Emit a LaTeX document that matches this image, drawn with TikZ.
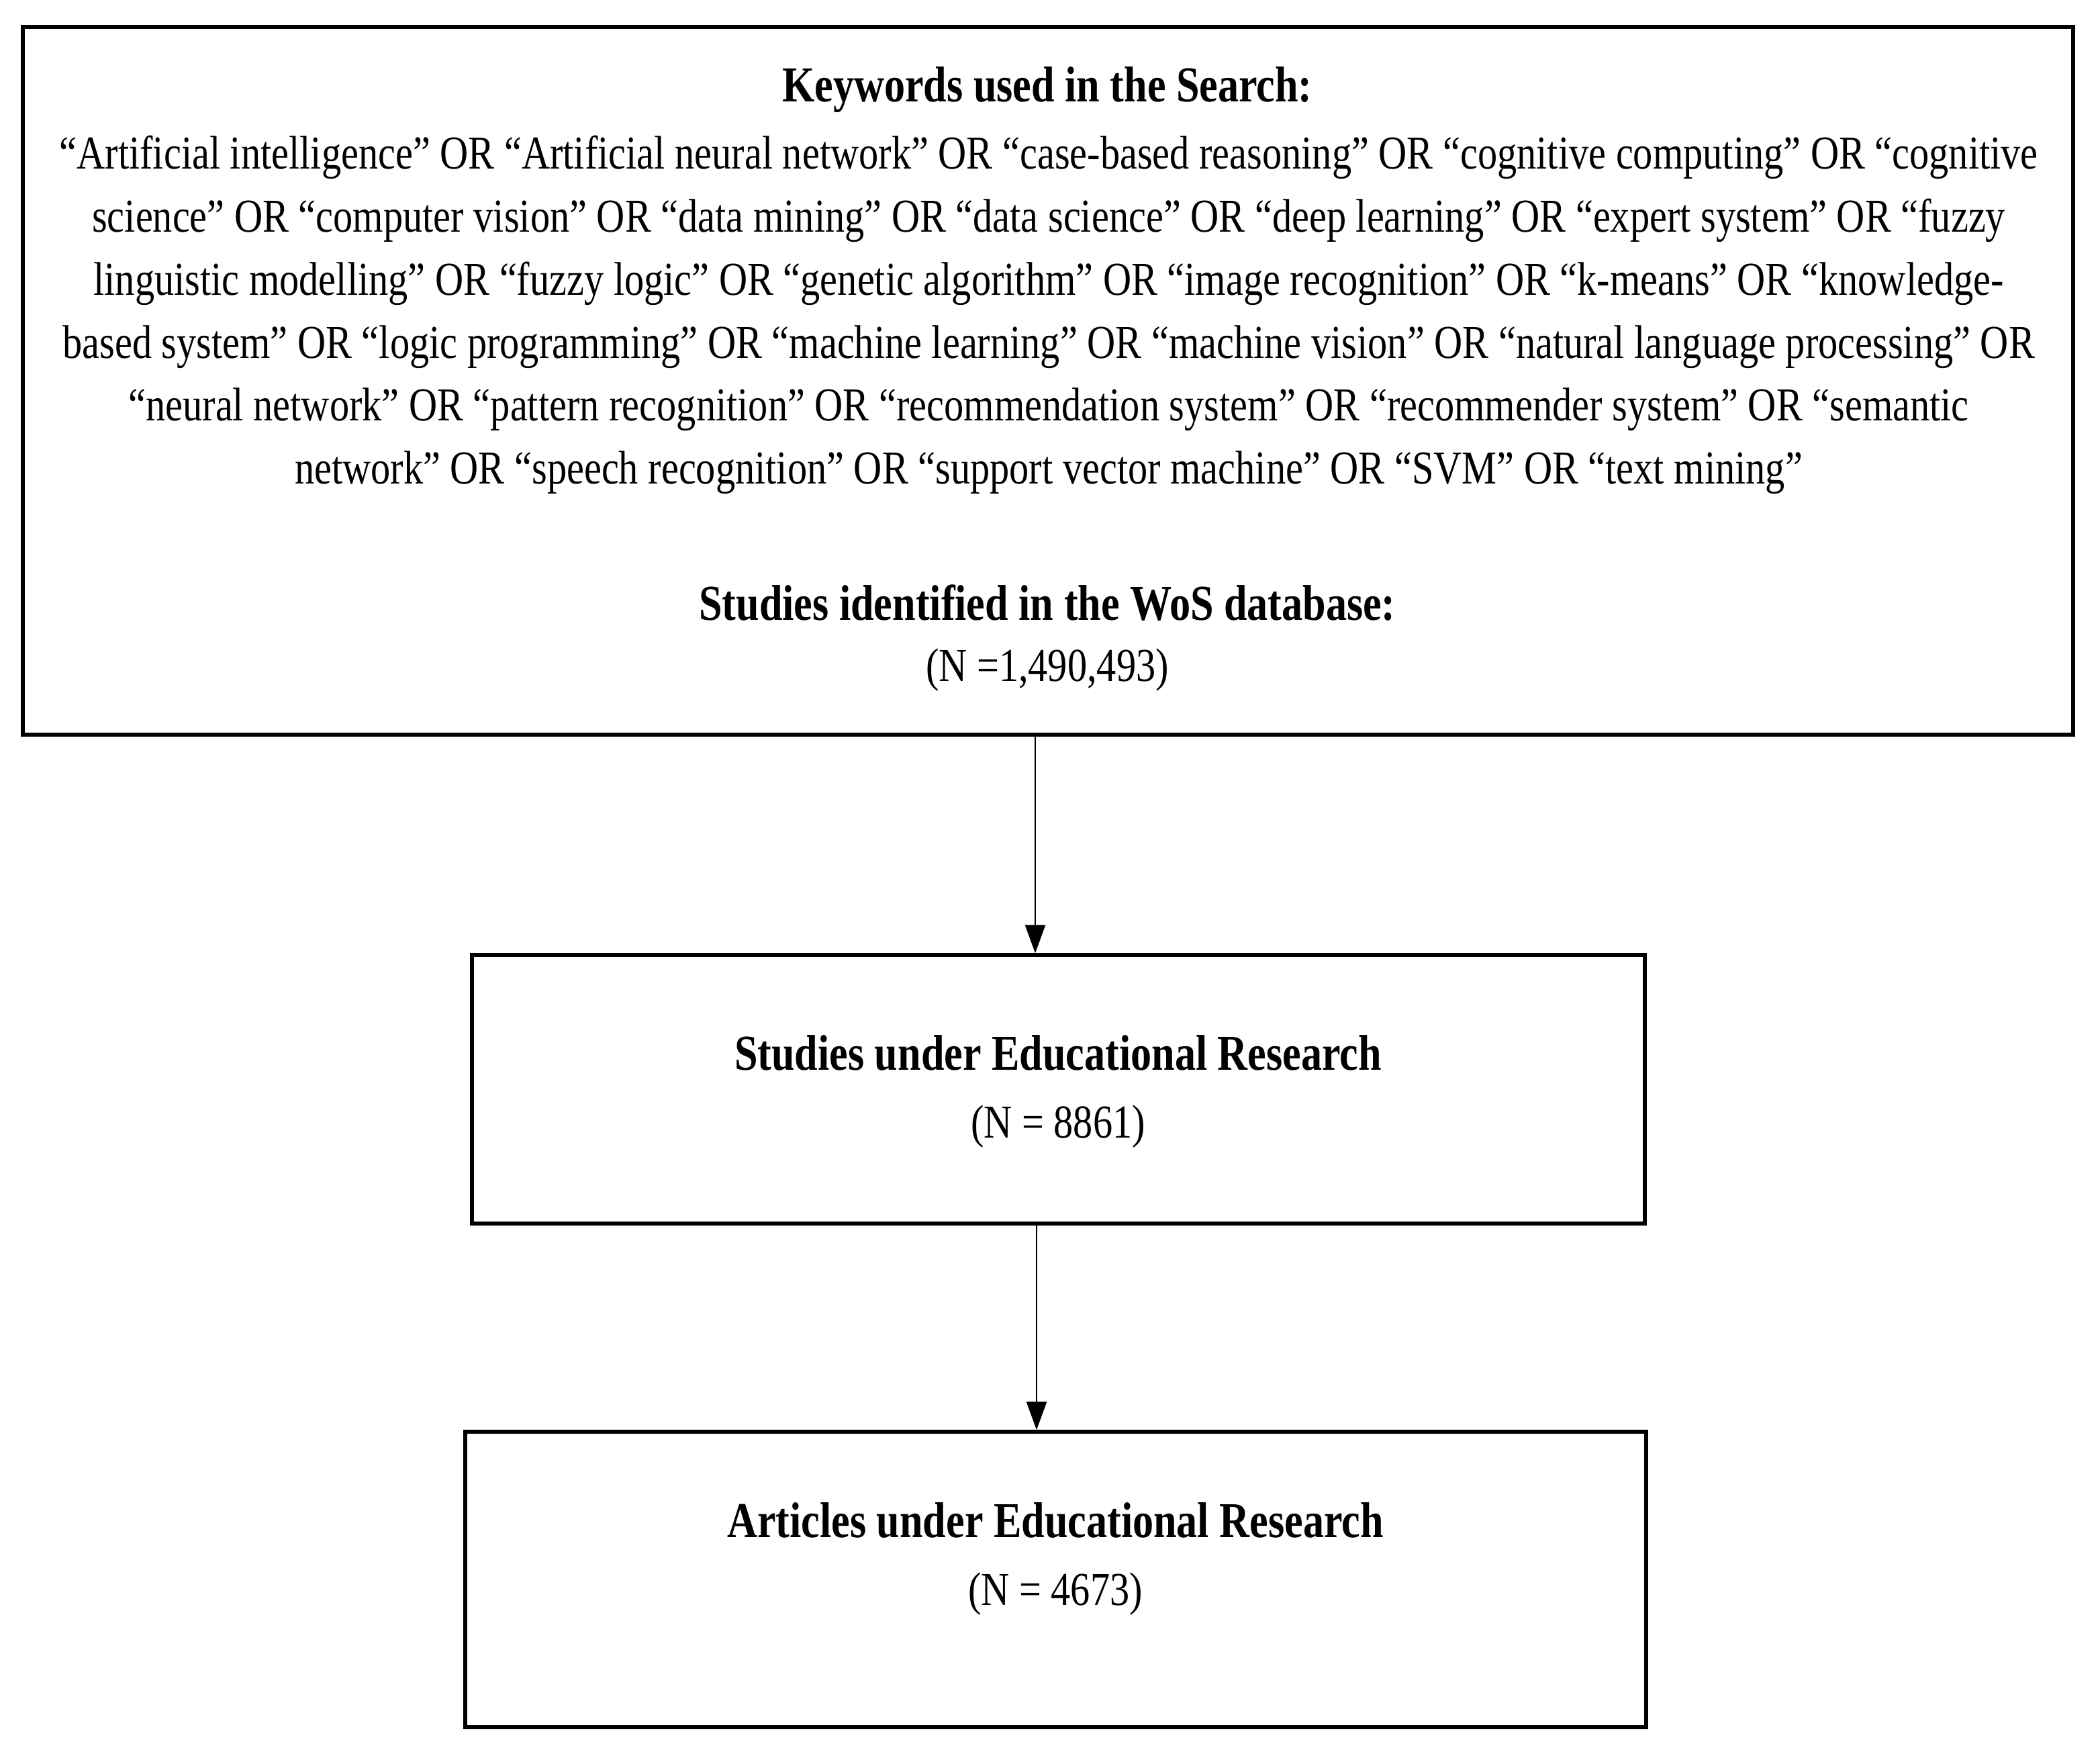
\documentclass[tikz,border=0pt]{standalone}
\usepackage{fontspec}
\setmainfont{Liberation Serif}[FakeStretch=0.83]
\usetikzlibrary{arrows.meta}
\tikzset{
  box/.style={draw=black, line width=1.5pt, rectangle, inner sep=0pt},
  txt/.style={inner sep=0pt, align=center, font=\fontsize{20}{26.7}\selectfont},
  btxt/.style={txt, font=\fontsize{21.3}{26.7}\selectfont\bfseries},
  arr/.style={draw=black, line width=0.7pt, -{Triangle[length=0.42cm,width=0.3cm]}}
}
\begin{document}
\begin{tikzpicture}
\useasboundingbox (0,0) rectangle (31.28,-26);
\fill[white] (0,0) rectangle (31.28,-26);
% boxes
\node[box, minimum width=30.54cm, minimum height=10.54cm] (top) at (15.61,-5.67) {};
\node[box, minimum width=17.47cm, minimum height=4.0cm] (mid) at (15.765,-16.22) {};
\node[box, minimum width=17.59cm, minimum height=4.4cm] (bot) at (15.725,-23.52) {};
% texts
\node[btxt] (kwt) at (15.6,-1.34) {Keywords used in the Search:};
\node[txt] (kw) at (15.62,-4.69) {%
“Artificial intelligence” OR “Artificial neural network” OR “case-based reasoning” OR “cognitive computing” OR “cognitive\\
science” OR “computer vision” OR “data mining” OR “data science” OR “deep learning” OR “expert system” OR “fuzzy\\
linguistic modelling” OR “fuzzy logic” OR “genetic algorithm” OR “image recognition” OR “k-means” OR “knowledge-\\
based system” OR “logic programming” OR “machine learning” OR “machine vision” OR “natural language processing” OR\\
“neural network” OR “pattern recognition” OR “recommendation system” OR “recommender system” OR “semantic\\
network” OR “speech recognition” OR “support vector machine” OR “SVM” OR “text mining"};
\node[btxt] (wost) at (15.6,-8.98) {Studies identified in the WoS database:};
\node[txt] (wosn) at (15.6,-9.98) {(N =1,490,493)};
\node[btxt] (midt) at (15.76,-15.68) {Studies under Educational Research};
\node[txt] (midn) at (15.76,-16.78) {(N = 8861)};
\node[btxt] (bott) at (15.72,-22.64) {Articles under Educational Research};
\node[txt] (botn) at (15.72,-23.74) {(N = 4673)};
% arrows
\coordinate (a1) at (15.42,0);
\coordinate (a2) at (15.44,0);
\draw[arr] (top.south -| a1) -- (mid.north -| a1);
\draw[arr] (mid.south -| a2) -- (bot.north -| a2);
\end{tikzpicture}
\end{document}
